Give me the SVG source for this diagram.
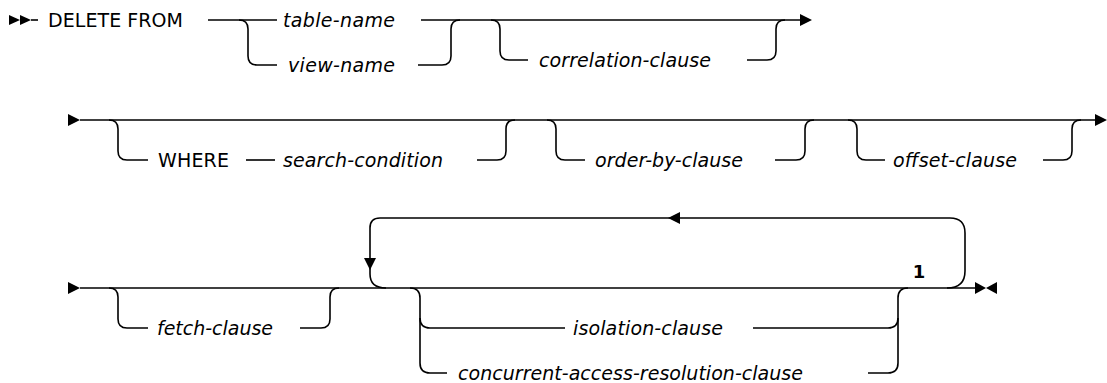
<svg xmlns="http://www.w3.org/2000/svg" width="1107" height="383" viewBox="0 0 1107 383">
<style>
.ln{fill:none;stroke:#000;stroke-width:1.6}
.ah{fill:#000;stroke:none}
.kw{font-family:"DejaVu Sans",sans-serif;font-size:19px;fill:#000}
.var{font-family:"DejaVu Sans",sans-serif;font-size:19px;font-style:italic;fill:#000}
.note{font-family:"DejaVu Sans",sans-serif;font-size:18px;font-weight:bold;fill:#000}
</style>
<rect width="1107" height="383" fill="#fff"/>
<g id="connectors">
<!-- row 1 -->
<path class="ln" d="M31,20 H38"/>
<path class="ln" d="M208,20 H277"/>
<path class="ln" d="M239,20 Q248,20 248,29 V56 Q248,65 257,65 H277"/>
<path class="ln" d="M418,65 H442 Q451,65 451,56 V29 Q451,20 460,20"/>
<path class="ln" d="M421,20 H801"/>
<path class="ln" d="M491,20 Q500,20 500,29 V51 Q500,60 509,60 H528"/>
<path class="ln" d="M747,60 H767 Q776,60 776,51 V29 Q776,20 785,20"/>
<!-- row 2 -->
<path class="ln" d="M80,120 H1096"/>
<path class="ln" d="M109,120 Q118,120 118,129 V151 Q118,160 127,160 H148"/>
<path class="ln" d="M246,160 H275"/>
<path class="ln" d="M477,160 H497 Q506,160 506,151 V129 Q506,120 515,120"/>
<path class="ln" d="M547,120 Q556,120 556,129 V151 Q556,160 565,160 H585"/>
<path class="ln" d="M775,160 H796 Q805,160 805,151 V129 Q805,120 814,120"/>
<path class="ln" d="M848,120 Q857,120 857,129 V151 Q857,160 866,160 H885"/>
<path class="ln" d="M1043,160 H1063 Q1072,160 1072,151 V129 Q1072,120 1081,120"/>
<!-- row 3 -->
<path class="ln" d="M80,288 H976"/>
<path class="ln" d="M109,288 Q118,288 118,297 V319 Q118,328 127,328 H148"/>
<path class="ln" d="M300,328 H321 Q330,328 330,319 V297 Q330,288 339,288"/>
<path class="ln" d="M947,288 Q965,288 965,271 V233 Q965,218 950,218 H380 Q370,218 370,228 V274 Q370,288 386,288"/>
<path class="ln" d="M410,288 Q420,288 420,298 V363 Q420,373 430,373 H447"/>
<path class="ln" d="M420,318 Q420,328 430,328 H565"/>
<path class="ln" d="M753,328 H888 Q898,328 898,318 V298 Q898,288 908,288"/>
<path class="ln" d="M868,373 H888 Q898,373 898,363 V318"/>
<!-- arrowheads -->
<polygon class="ah" points="9,15 20,20 9,25"/>
<polygon class="ah" points="20,15 31,20 20,25"/>
<polygon class="ah" points="800,14 812,20 800,26"/>
<polygon class="ah" points="68,114 80,120 68,126"/>
<polygon class="ah" points="1095,114 1107,120 1095,126"/>
<polygon class="ah" points="68,282 80,288 68,294"/>
<polygon class="ah" points="668,218 680,212 680,224"/>
<polygon class="ah" points="364,258 376,258 370,270"/>
<polygon class="ah" points="975,282 986,288 975,294"/>
<polygon class="ah" points="997,282 986,288 997,294"/>
</g>
<g id="delete-from"><text class="kw" x="48" y="27" textLength="135" lengthAdjust="spacing">DELETE FROM</text></g>
<g id="table-name"><text class="var" x="283" y="27" textLength="112" lengthAdjust="spacing">table-name</text></g>
<g id="view-name"><text class="var" x="288" y="72" textLength="107" lengthAdjust="spacing">view-name</text></g>
<g id="correlation-clause"><text class="var" x="539" y="67" textLength="172" lengthAdjust="spacing">correlation-clause</text></g>
<g id="where"><text class="kw" x="158" y="167" textLength="71" lengthAdjust="spacing">WHERE</text></g>
<g id="search-condition"><text class="var" x="283" y="167" textLength="160" lengthAdjust="spacing">search-condition</text></g>
<g id="order-by-clause"><text class="var" x="595" y="167" textLength="148" lengthAdjust="spacing">order-by-clause</text></g>
<g id="offset-clause"><text class="var" x="893" y="167" textLength="124" lengthAdjust="spacing">offset-clause</text></g>
<g id="fetch-clause"><text class="var" x="157" y="335" textLength="116" lengthAdjust="spacing">fetch-clause</text></g>
<g id="isolation-clause"><text class="var" x="573" y="335" textLength="150" lengthAdjust="spacing">isolation-clause</text></g>
<g id="concurrent-access-resolution-clause"><text class="var" x="458" y="380" textLength="345" lengthAdjust="spacing">concurrent-access-resolution-clause</text></g>
<g id="note-1"><text class="note" x="919" y="278" text-anchor="middle">1</text></g>
</svg>
